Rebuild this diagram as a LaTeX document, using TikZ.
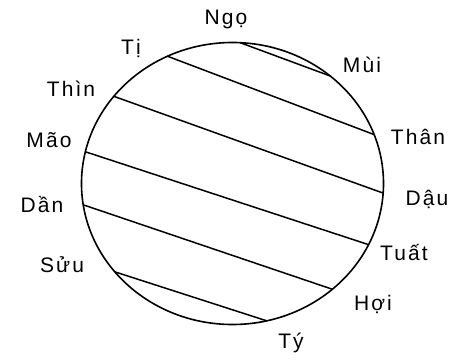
\documentclass[tikz,border=0pt]{standalone}
\usepackage{fontspec}
\usetikzlibrary{calc}
\setmainfont[LetterSpace=10]{Liberation Sans}
\begin{document}
\begin{tikzpicture}[x=1pt,y=1pt,
  rim/.style={line width=1.6pt},
  chord/.style={line width=1.5pt},
  lab/.style={anchor=base,inner sep=0pt,font=\fontsize{21}{21}\selectfont}]
\useasboundingbox (0,0) rectangle (465,359);
\coordinate (c) at (232.5,175.5);
\draw[rim] (c) ellipse [x radius=151, y radius=141];
\foreach \n/\a in {ngo/87.1, mui/49.7, than/20.3, dau/-3.9, tuat/-25.7, hoi/-48.6,
                   ty/-76.9, suu/218.8, dan/188.7, mao/167.0, thin/141.8, ti/115.5}
  \coordinate (\n) at ($(c)+(\a:151pt and 141pt)$);
\draw[chord] (ngo) -- (mui);
\draw[chord] (ti) -- (than);
\draw[chord] (thin) -- (dau);
\draw[chord] (mao) -- (tuat);
\draw[chord] (dan) -- (hoi);
\draw[chord] (suu) -- (ty);
\node[lab] (lngo)  at (226,334) {Ngọ};
\node[lab] (lmui)  at (362,286) {Mùi};
\node[lab] (lthan) at (418,214) {Thân};
\node[lab] (ldau)  at (427,154) {Dậu};
\node[lab] (ltuat) at (404,99)  {Tuất};
\node[lab] (lhoi)  at (373,49)  {Hợi};
\node[lab] (lty)   at (291,11)  {Tý};
\node[lab] (lsuu)  at (62,87)   {Sửu};
\node[lab] (ldan)  at (42,147)  {Dần};
\node[lab] (lmao)  at (49,211)  {Mão};
\node[lab] (lthin) at (71,262)  {Thìn};
\node[lab] (lti)   at (131,304) {Tị};
\end{tikzpicture}
\end{document}
